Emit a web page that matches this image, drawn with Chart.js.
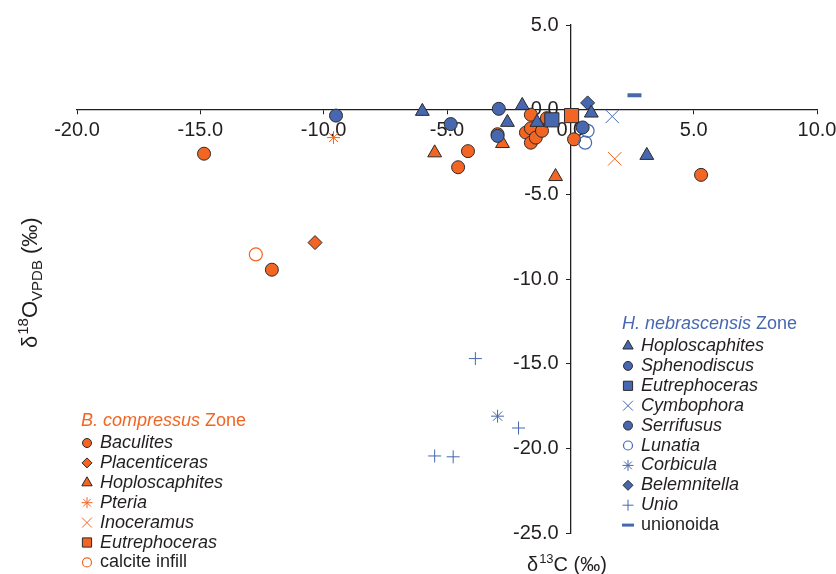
<!DOCTYPE html>
<html>
<head>
<meta charset="utf-8">
<script src="https://cdn.jsdelivr.net/npm/chart.js@4.4.1/dist/chart.umd.min.js"></script>
<style>
  html, body { margin: 0; padding: 0; background: #fff; }
  #wrap { width: 836px; height: 574px; }
</style>
</head>
<body>
<div id="wrap"><canvas id="isotopes" width="836" height="574"></canvas></div>
<script>
// axis ticks
const xTicks = [-20, -15, -10, -5, 0, 5, 10];
const yTicks = [5, 0, -5, -10, -15, -20, -25];

// B. compressus Zone  [d13C, d18O]
const bcBaculites = [[-14.85, -2.6], [-12.1, -9.45], [5.3, -3.85], [-4.15, -2.45], [-4.55, -3.4],
  [-1.6, -0.3], [-1.8, -1.35], [-1.6, -1.1], [-1.6, -1.95], [-1.4, -1.65], [-1.15, -1.25],
  [-0.95, -0.5], [0.15, -1.75], [-2.95, -1.45]];
const bcPlacenticeras = [[-10.35, -7.85]];
const bcHoploscaphites = [[-5.5, -2.55], [-2.75, -2.0], [-0.6, -3.95]];
const bcPteria = [[-9.6, -1.65]];
const bcInoceramus = [[1.8, -2.9]];
const bcEutrephoceras = [[0.05, -0.35]];
const bcCalciteInfill = [[-12.75, -8.55]];

// H. nebrascensis Zone
const hnHoploscaphites = [[-6.0, -0.1], [-1.95, 0.25], [-2.55, -0.75], [-1.35, -0.75], [0.85, -0.2], [3.1, -2.7]];
const hnSphenodiscus = [[-9.5, -0.35], [-2.9, 0.05], [-4.85, -0.85], [-2.95, -1.55]];
const hnEutrephoceras = [[-0.75, -0.6]];
const hnCymbophora = [[1.7, -0.4]];
const hnSerrifusus = [[0.5, -1.05]];
const hnLunatia = [[0.7, -1.25], [0.6, -1.95]];
const hnCorbicula = [[-2.95, -18.1]];
const hnBelemnitella = [[0.7, 0.4]];
const hnUnio = [[-3.85, -14.7], [-2.1, -18.8], [-5.5, -20.45], [-4.75, -20.5]];
const hnUnionoida = [[2.6, 0.85]];

const ORANGE = "#f26522";
const BLUE = "#4767b0";
const EDGE = "#2b2b2b";
const INK = "#231f20";

// marker looks: [pointStyle, radius, fill, stroke, lineWidth, legendRadius]
const looks = {
    filledCircle: c => ["circle", 6.5, c, EDGE, 1, 4.5],
    diamond: c => ["rectRot", 7, c, EDGE, 1, 5],
    triangle: c => ["triangle", 8, c, EDGE, 1, 6],
    square: c => ["rect", 10, c, EDGE, 1, 6.5],
    star: c => ["star", 6.5, c, c, 1, 5.5],
    xmark: c => ["crossRot", 9.5, c, c, 1, 7],
    plus: c => ["cross", 6.5, c, c, 1, 5.5],
    openCircle: c => ["circle", 6.5, "rgba(0,0,0,0)", c, 1.2, 4.5],
    dash: c => ["line", 7, c, c, 4, 6]
};

const hnSeries = [
    ["Hoploscaphites", hnHoploscaphites, looks.triangle(BLUE)],
    ["Sphenodiscus", hnSphenodiscus, looks.filledCircle(BLUE)],
    ["Eutrephoceras", hnEutrephoceras, looks.square(BLUE)],
    ["Cymbophora", hnCymbophora, looks.xmark(BLUE)],
    ["Serrifusus", hnSerrifusus, looks.filledCircle(BLUE)],
    ["Lunatia", hnLunatia, looks.openCircle(BLUE)],
    ["Corbicula", hnCorbicula, looks.star(BLUE)],
    ["Belemnitella", hnBelemnitella, looks.diamond(BLUE)],
    ["Unio", hnUnio, looks.plus(BLUE)],
    ["unionoida", hnUnionoida, looks.dash(BLUE)]
];
const bcSeries = [
    ["Baculites", bcBaculites, looks.filledCircle(ORANGE)],
    ["Placenticeras", bcPlacenticeras, looks.diamond(ORANGE)],
    ["Hoploscaphites", bcHoploscaphites, looks.triangle(ORANGE)],
    ["Pteria", bcPteria, looks.star(ORANGE)],
    ["Inoceramus", bcInoceramus, looks.xmark(ORANGE)],
    ["Eutrephoceras", bcEutrephoceras, looks.square(ORANGE)],
    ["calcite infill", bcCalciteInfill, looks.openCircle(ORANGE)]
];

function toDataset(zone, [name, pts, look]) {
    const [style, r, fill, stroke, lw] = look;
    return {
        label: zone + " " + name,
        data: pts.map(([x, y]) => ({ x, y })),
        pointStyle: style,
        pointRadius: r,
        pointHoverRadius: r,
        backgroundColor: fill,
        borderColor: stroke,
        borderWidth: lw
    };
}

// first dataset is painted last, so blue sits on top like in the figure
const datasets = hnSeries.map(s => toDataset("H. nebrascensis", s))
    .concat(bcSeries.map(s => toDataset("B. compressus", s)));

const FONT = "'Liberation Sans', Arial, Helvetica, sans-serif";

function drawLegend(ctx, x, y, italicPart, restPart, color, series) {
    ctx.textBaseline = "middle";
    ctx.textAlign = "left";
    ctx.fillStyle = color;
    ctx.font = "italic 18px " + FONT;
    ctx.fillText(italicPart, x, y);
    const w = ctx.measureText(italicPart).width;
    ctx.font = "18px " + FONT;
    ctx.fillText(restPart, x + w, y);
    series.forEach(([name, , look], i) => {
        const [style, , fill, stroke, lw, lr] = look;
        const cy = y + 22 + i * 19.9;
        ctx.save();
        ctx.fillStyle = fill;
        ctx.strokeStyle = stroke;
        ctx.lineWidth = style === "line" ? 3 : lw;
        Chart.helpers.drawPoint(ctx, { pointStyle: style, radius: lr, borderWidth: lw, rotation: 0 }, x + 6, cy);
        ctx.restore();
        ctx.fillStyle = INK;
        ctx.font = (name === "calcite infill" || name === "unionoida" ? "" : "italic ") + "18px " + FONT;
        ctx.fillText(name, x + 19, cy);
    });
}

const annotations = {
    id: "annotations",
    afterDraw(chart) {
        const ctx = chart.ctx;
        ctx.save();
        ctx.fillStyle = INK;
        ctx.textBaseline = "alphabetic";
        ctx.textAlign = "left";

        // x axis title
        let x = 527, y = 571;
        ctx.font = "20px " + FONT;
        ctx.fillText("\u03b4", x, y); x += ctx.measureText("\u03b4").width + 1;
        ctx.font = "13px " + FONT;
        ctx.fillText("13", x, y - 8); x += ctx.measureText("13").width;
        ctx.font = "20px " + FONT;
        ctx.fillText("C (\u2030)", x, y);

        // y axis title, reading upward
        ctx.save();
        ctx.translate(37, 348);
        ctx.rotate(-Math.PI / 2);
        x = 0;
        ctx.font = "22px " + FONT;
        ctx.fillText("\u03b4", x, 0); x += ctx.measureText("\u03b4").width + 1;
        ctx.font = "15px " + FONT;
        ctx.fillText("18", x, -9); x += ctx.measureText("18").width;
        ctx.font = "22px " + FONT;
        ctx.fillText("O", x, 0); x += ctx.measureText("O").width;
        ctx.font = "15px " + FONT;
        ctx.fillText("VPDB", x, 5); x += ctx.measureText("VPDB").width;
        ctx.font = "22px " + FONT;
        ctx.fillText(" (\u2030)", x, 0);
        ctx.restore();

        drawLegend(ctx, 81, 421, "B. compressus", " Zone", ORANGE, bcSeries);
        drawLegend(ctx, 622, 324, "H. nebrascensis", " Zone", BLUE, hnSeries);
        ctx.restore();
    }
};

// the axes cross inside the plot, so their label overhang should not shrink it
function noOverhang(scale) {
    scale.paddingLeft = 0;
    scale.paddingRight = 0;
    scale.paddingTop = 0;
    scale.paddingBottom = 0;
}

new Chart(document.getElementById("isotopes"), {
    type: "scatter",
    data: { datasets },
    plugins: [annotations],
    options: {
        responsive: false,
        animation: false,
        devicePixelRatio: 1,
        layout: { padding: { left: 77, right: 19, top: 25, bottom: 41 } },
        plugins: { legend: { display: false }, tooltip: { enabled: false } },
        scales: {
            x: {
                type: "linear",
                min: xTicks[0],
                max: xTicks[xTicks.length - 1],
                position: { y: 0 },
                afterBuildTicks: s => { s.ticks = xTicks.map(v => ({ value: v })); },
                afterFit: noOverhang,
                ticks: {
                    callback: v => v.toFixed(1),
                    color: INK,
                    font: { family: FONT, size: 20 },
                    padding: 5
                },
                grid: { drawOnChartArea: false, tickLength: 4, color: INK, lineWidth: 1 },
                border: { color: INK, width: 1.3 }
            },
            y: {
                type: "linear",
                min: yTicks[yTicks.length - 1],
                max: yTicks[0],
                position: { x: 0 },
                afterBuildTicks: s => { s.ticks = yTicks.map(v => ({ value: v })); },
                afterFit: noOverhang,
                ticks: {
                    callback: v => v.toFixed(1) + "\u2002\u200a",
                    color: INK,
                    font: { family: FONT, size: 20 },
                    padding: 4
                },
                grid: { drawOnChartArea: false, tickLength: 4, color: INK, lineWidth: 1 },
                border: { color: INK, width: 1.3 }
            }
        }
    }
});
</script>
</body>
</html>
